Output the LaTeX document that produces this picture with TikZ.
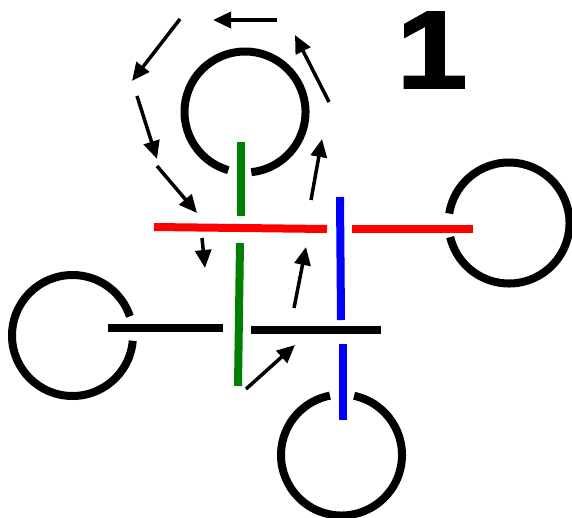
\documentclass[tikz,border=0pt]{standalone}
\usepackage{fontspec}
\newfontfamily\numfont[FakeBold=2]{Liberation Sans}
\usetikzlibrary{arrows.meta}

\begin{document}
\begin{tikzpicture}[x=1pt, y=-1pt,
		ring/.style={
				draw=black, line width=8pt
			},
		bar/.style={
				line width=8pt
			},
		flow/.style={
				line width=3.5pt, -{Triangle[length=18pt,width=16pt]}
			},
		digit/.style={
				font=\numfont\bfseries\fontsize{110pt}{110pt}\selectfont, inner sep=0pt, xscale=1.15
			}
	]
	\useasboundingbox (0,0) rectangle (572,517);

	% Centres of the four rings
	\coordinate (ctop) at (245,112);
	\coordinate (cleft) at (72.5,335.5);
	\coordinate (cright) at (509,223);
	\coordinate (cbottom) at (341.5,455);

	% Rings, each open where its bar comes in
	\draw[ring] ([shift={(106:60.5)}]ctop) arc[start angle=106, end angle=444, radius=60.5];
	\draw[ring] ([shift={(5:60.5)}]cleft) arc[start angle=5, end angle=341.5, radius=60.5];
	\draw[ring] ([shift={(189:60.5)}]cright) arc[start angle=189, end angle=526.5, radius=60.5];
	\draw[ring] ([shift={(282:60.5)}]cbottom) arc[start angle=282, end angle=619, radius=60.5];

	% Bars (under-crossings leave a gap)
	\coordinate (gA) at (241,142);  \coordinate (gB) at (241,216);
	\coordinate (gC) at (240,243);  \coordinate (gD) at (238,386);
	\coordinate (rA) at (154,227);  \coordinate (rB) at (327,229);
	\coordinate (rC) at (352,229);  \coordinate (rD) at (473,229);
	\coordinate (bA) at (340,197);  \coordinate (bB) at (341,320);
	\coordinate (bC) at (343,344);  \coordinate (bD) at (343,420);
	\coordinate (kA) at (108,328);  \coordinate (kB) at (223,328);
	\coordinate (kC) at (251,330);  \coordinate (kD) at (381,330);

	\draw[bar, green!50!black] (gA) -- (gB);
	\draw[bar, green!50!black] (gC) -- (gD);
	\draw[bar, red] (rA) -- (rB);
	\draw[bar, red] (rC) -- (rD);
	\draw[bar, blue] (bA) -- (bB);
	\draw[bar, blue] (bC) -- (bD);
	\draw[bar, black] (kA) -- (kB);
	\draw[bar, black] (kC) -- (kD);

	% Arrows round the path
	\coordinate (f1s) at (277,20);  \coordinate (f1e) at (213,20);
	\coordinate (f2s) at (180,19);  \coordinate (f2e) at (132,81);
	\coordinate (f3s) at (137,96);  \coordinate (f3e) at (157,159);
	\coordinate (f4s) at (157,166); \coordinate (f4e) at (197,213);
	\coordinate (f5s) at (202,238); \coordinate (f5e) at (205,268);
	\coordinate (f6s) at (246,389); \coordinate (f6e) at (295,345);
	\coordinate (f7s) at (294,308); \coordinate (f7e) at (306,247);
	\coordinate (f8s) at (311,200); \coordinate (f8e) at (322,139);
	\coordinate (f9s) at (329,102); \coordinate (f9e) at (295,35);

	\draw[flow] (f1s) -- (f1e);
	\draw[flow] (f2s) -- (f2e);
	\draw[flow] (f3s) -- (f3e);
	\draw[flow] (f4s) -- (f4e);
	\draw[flow] (f5s) -- (f5e);
	\draw[flow] (f6s) -- (f6e);
	\draw[flow] (f7s) -- (f7e);
	\draw[flow] (f8s) -- (f8e);
	\draw[flow] (f9s) -- (f9e);

	\node[digit] (num) at (432,50) {1};
\end{tikzpicture}
\end{document}
